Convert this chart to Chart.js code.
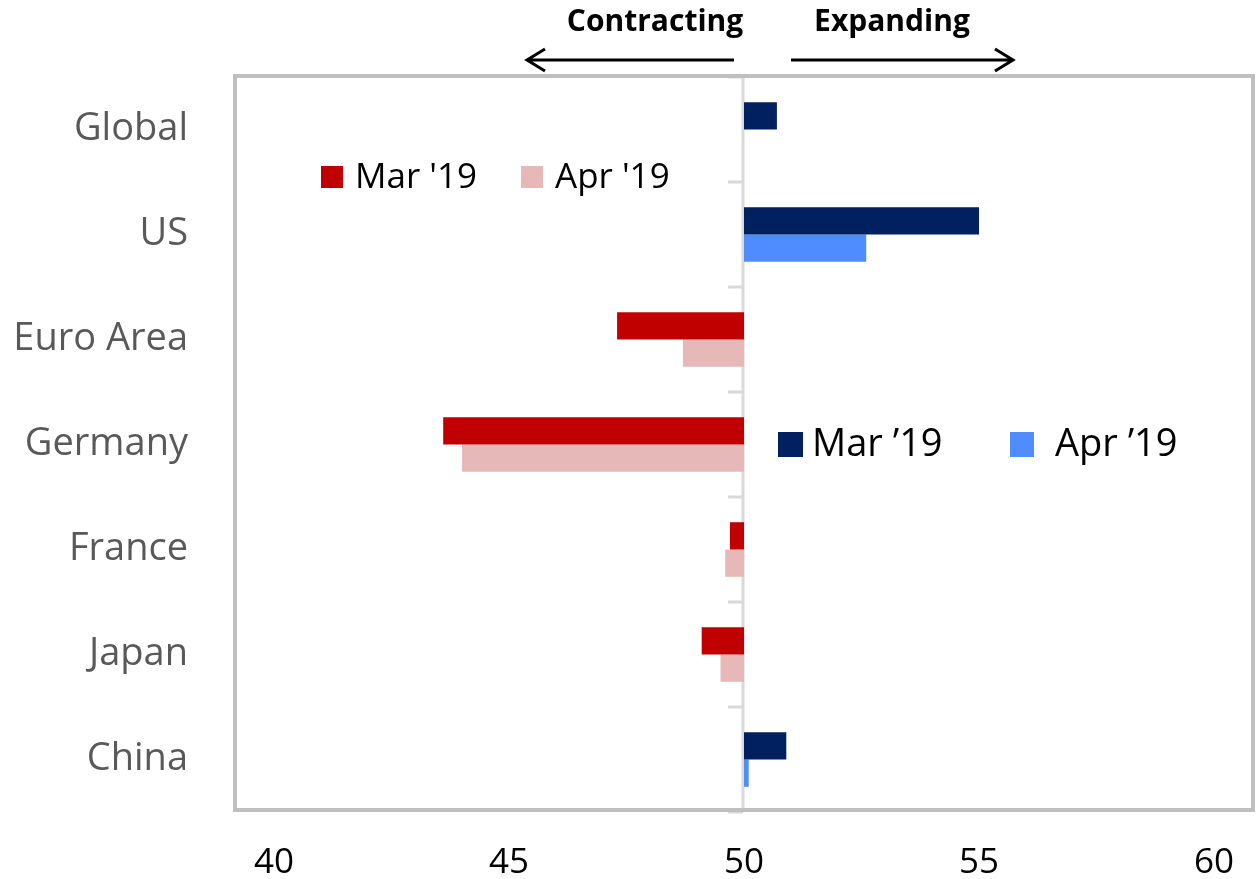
<!DOCTYPE html>
<html>
<head>
<meta charset="utf-8">
<script src="https://cdn.jsdelivr.net/npm/chart.js@4/dist/chart.umd.min.js"></script>
<style>
  html, body { margin: 0; padding: 0; background: #fff; }
  #wrap { width: 1259px; height: 879px; }
</style>
</head>
<body>
<div id="wrap"><canvas id="pmiChart" width="1259" height="879"></canvas></div>
<script>
  const categories = ['Global', 'US', 'Euro Area', 'Germany', 'France', 'Japan', 'China'];
  const marValues = [50.7, 55.0, 47.3, 43.6, 49.7, 49.1, 50.9];
  const aprValues = [50.0, 52.6, 48.7, 44.0, 49.6, 49.5, 50.1];
  const xTicks = [40, 45, 50, 55, 60];
  const seriesNames = ["Mar '19", "Apr '19"];

  const FONT = "'Open Sans', 'Noto Sans', sans-serif";
  const NAVY = '#002060', BLUE = '#4F8DFF', RED = '#C00000', PINK = '#E6B9B8';

  function colorFor(upColor, downColor) {
    return (c) => (c.raw >= 50 ? upColor : downColor);
  }

  // frame, centre line, arrows and the two legends
  const decorations = {
    id: 'decorations',
    beforeDatasetsDraw(chart) {
      const { ctx, chartArea: a, scales: { x } } = chart;
      const x50 = x.getPixelForValue(50);
      ctx.save();
      ctx.strokeStyle = '#D9D9D9';
      ctx.lineWidth = 3;
      ctx.beginPath();
      ctx.moveTo(x50 - 1, a.top);
      ctx.lineTo(x50 - 1, a.bottom);
      ctx.stroke();
      // category ticks between the rows
      const step = (a.bottom - a.top) / categories.length;
      for (let i = 0; i <= categories.length; i++) {
        const yy = a.top + i * step;
        ctx.beginPath();
        ctx.moveTo(x50 - 16, yy);
        ctx.lineTo(x50 - 1, yy);
        ctx.stroke();
      }
      ctx.restore();
    },
    afterDraw(chart) {
      const { ctx, chartArea: a } = chart;
      ctx.save();
      // frame
      ctx.strokeStyle = '#BFBFBF';
      ctx.lineWidth = 4;
      ctx.strokeRect(235, a.top - 1, 1018, a.bottom - a.top - 1);

      // contracting / expanding labels
      ctx.fillStyle = '#000';
      ctx.font = 'bold 30px ' + FONT;
      ctx.textBaseline = 'middle';
      ctx.textAlign = 'center';
      ctx.fillText('Contracting', 655, 22);
      ctx.fillText('Expanding', 892, 22);

      ctx.strokeStyle = '#000';
      ctx.lineWidth = 3;
      ctx.beginPath();
      ctx.moveTo(527, 60); ctx.lineTo(734, 60);
      ctx.moveTo(545, 49); ctx.lineTo(527, 60); ctx.lineTo(545, 71);
      ctx.moveTo(791, 60); ctx.lineTo(1013, 60);
      ctx.moveTo(995, 49); ctx.lineTo(1013, 60); ctx.lineTo(995, 71);
      ctx.stroke();

      // legends
      ctx.textAlign = 'left';
      ctx.font = '35px ' + FONT;
      ctx.fillStyle = RED; ctx.fillRect(321, 166, 22, 22);
      ctx.fillStyle = PINK; ctx.fillRect(521, 166, 22, 22);
      ctx.fillStyle = '#000';
      ctx.fillText(seriesNames[0], 355, 178);
      ctx.fillText(seriesNames[1], 555, 178);

      ctx.font = '38px ' + FONT;
      ctx.fillStyle = NAVY; ctx.fillRect(778, 432, 25, 25);
      ctx.fillStyle = BLUE; ctx.fillRect(1010, 432, 24, 25);
      ctx.fillStyle = '#000';
      ctx.fillText('Mar \u201919', 812, 445);
      ctx.fillText('Apr \u201919', 1055, 445);
      ctx.restore();
    }
  };

  const ctx = document.getElementById('pmiChart');
  new Chart(ctx, {
    type: 'bar',
    data: {
      labels: categories,
      datasets: [{
        label: seriesNames[0],
        data: marValues,
        base: 50,
        backgroundColor: colorFor(NAVY, RED),
        borderWidth: 0,
        categoryPercentage: 0.52,
        barPercentage: 1
      }, {
        label: seriesNames[1],
        data: aprValues,
        base: 50,
        backgroundColor: colorFor(BLUE, PINK),
        borderWidth: 0,
        categoryPercentage: 0.52,
        barPercentage: 1
      }]
    },
    options: {
      indexAxis: 'y',
      responsive: false,
      animation: false,
      layout: { padding: { top: 77, right: 45, left: 0, bottom: 0 } },
      plugins: { legend: { display: false }, tooltip: { enabled: false } },
      scales: {
        x: {
          min: 40,
          max: 60,
          afterBuildTicks: (s) => { s.ticks = xTicks.map(v => ({ value: v })); },
          afterFit: (s) => { s.height = 67; s.paddingLeft = 0; s.paddingRight = 0; },
          grid: { display: false },
          border: { display: false },
          ticks: { color: '#000', padding: 22, maxRotation: 0, font: { family: FONT, size: 35 } }
        },
        y: {
          afterFit: (s) => { s.width = 274; s.paddingTop = 0; s.paddingBottom = 0; },
          grid: { display: false },
          border: { display: false },
          ticks: { color: '#595959', padding: 78, font: { family: FONT, size: 38 } }
        }
      }
    },
    plugins: [decorations]
  });
</script>
</body>
</html>
